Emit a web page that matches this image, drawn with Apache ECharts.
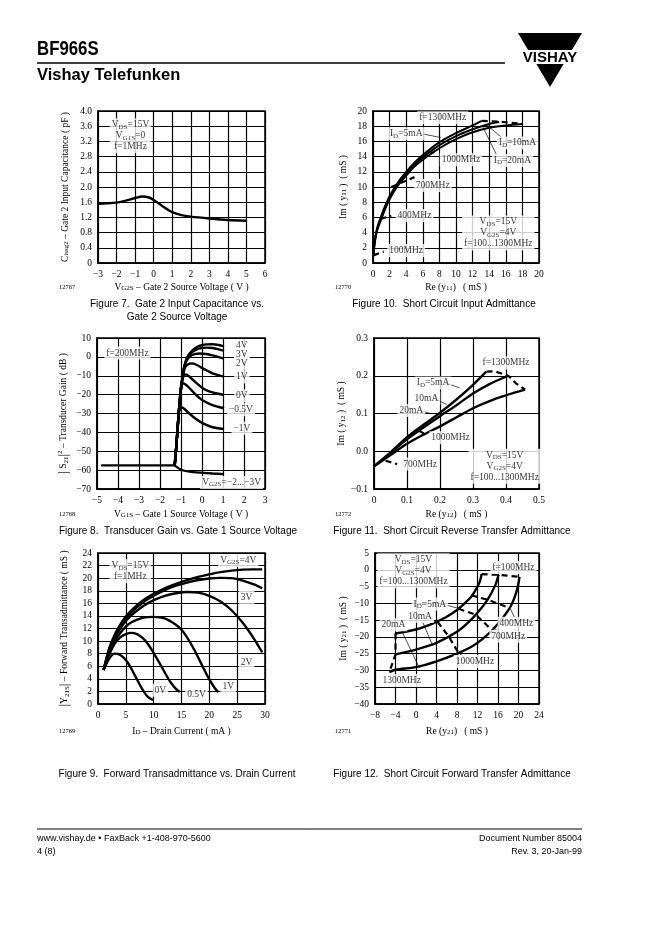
<!DOCTYPE html>
<html><head><meta charset="utf-8">
<script src="https://cdn.jsdelivr.net/npm/echarts@6.0.0/dist/echarts.min.js"></script>
<style>html,body{margin:0;padding:0;background:#fff}#c{width:662px;height:936px}</style>
</head><body><div id="c"></div>
<script>
// ---------- Figure 7 : Gate 2 input capacitance ----------
const fig7_vg2s = [-3, -2.5, -2, -1.5, -1, -0.6, -0.3, 0, 0.5, 1, 1.5, 2, 3, 4, 5];
const fig7_cissg2 = [1.56, 1.57, 1.59, 1.64, 1.71, 1.75, 1.73, 1.66, 1.49, 1.34, 1.26, 1.22, 1.17, 1.13, 1.11];

// ---------- Figure 8 : Transducer gain ----------
const fig8_flat = [[-4.8, -57.5], [-1.3, -57.5]];
const fig8_vm2_3 = [[-1.3, -57.5], [-1.0, -59.8], [-0.6, -60.8], [0, -61.4], [0.5, -61.8], [1.05, -62.1]];
const fig8_4V = [[-1.3, -57.5], [-1.22, -47], [-1.15, -36], [-1.08, -26], [-1.0, -17], [-0.92, -10], [-0.85, -5.5], [-0.75, -1.5], [-0.65, 0.8], [-0.5, 3], [-0.3, 4.8], [-0.1, 5.9], [0.2, 6.6], [0.5, 6.7], [0.8, 6.3], [1.05, 5.6]];
const fig8_3V = [[-1.3, -57.5], [-1.22, -47], [-1.15, -36], [-1.08, -26], [-1.0, -17], [-0.92, -10], [-0.85, -5.5], [-0.75, -1.8], [-0.65, 0.6], [-0.5, 2.3], [-0.3, 3.7], [-0.1, 4.5], [0.2, 4.9], [0.5, 4.7], [0.8, 4.0], [1.05, 3.2]];
const fig8_2V = [[-1.3, -57.5], [-1.22, -47], [-1.15, -36], [-1.08, -26], [-1.0, -17], [-0.92, -10], [-0.85, -5.5], [-0.7, -1.5], [-0.5, 0.8], [-0.3, 1.6], [-0.1, 1.8], [0.2, 1.5], [0.5, 0.8], [0.8, -0.1], [1.05, -0.9]];
const fig8_1V = [[-1.3, -57.5], [-1.22, -47], [-1.15, -36], [-1.08, -26], [-1.0, -17], [-0.92, -10], [-0.82, -6], [-0.7, -4.2], [-0.55, -3.5], [-0.4, -3.6], [-0.2, -4.6], [0.1, -6.5], [0.5, -8.7], [1.05, -10.5]];
const fig8_0V = [[-1.3, -57.5], [-1.22, -47], [-1.15, -36], [-1.08, -26], [-1.0, -17], [-0.92, -11.5], [-0.82, -9.4], [-0.72, -9.4], [-0.55, -11], [-0.3, -13.5], [0, -16.3], [0.4, -18.6], [1.05, -20.2]];
const fig8_m05V = [[-1.3, -57.5], [-1.22, -47], [-1.15, -36], [-1.08, -26], [-1.02, -17], [-0.95, -14], [-0.8, -14.5], [-0.6, -16.5], [-0.3, -20], [0, -22.8], [0.5, -25.5], [1.05, -27.2]];
const fig8_m1V = [[-1.3, -57.5], [-1.22, -47], [-1.15, -36], [-1.1, -29], [-1.0, -26.5], [-0.85, -27.5], [-0.6, -30], [-0.3, -32.8], [0, -35], [0.5, -37.3], [1.05, -38.3]];

// ---------- Figure 9 : Forward transadmittance ----------
const fig9_0V = [[1, 5.4], [2, 7.2], [3, 8.0], [4, 7.8], [5, 7.0], [6, 5.6], [7, 3.9], [8, 2.3], [9, 1.1], [10, 0.6]];
const fig9_05V = [[1, 5.4], [2, 7.8], [3, 9.6], [4, 10.6], [5, 11.1], [6, 11.3], [7, 11.1], [8, 10.5], [9, 9.5], [10, 8.1], [11, 6.6], [12, 5.0], [13, 3.5], [14, 2.4], [14.7, 1.9]];
const fig9_1V = [[1, 5.4], [2, 8.2], [3, 10], [4, 11.3], [5, 12.3], [6, 13], [8, 13.7], [10, 13.85], [12, 13.6], [14, 12.6], [15, 11.8], [16, 10.6], [17, 9.1], [18, 7.4], [19, 5.6], [20, 3.9], [21, 2.5], [21.6, 1.9]];
const fig9_2V = [[1, 5.4], [2, 8.5], [3, 10.5], [4, 12], [5, 13.2], [6, 14.1], [8, 15.5], [10, 16.5], [12, 17.2], [14, 17.6], [16, 17.8], [18, 17.7], [20, 17.2], [22, 16.3], [24, 14.9], [26, 12.9], [28, 10.4], [29.5, 8.2]];
const fig9_3V = [[1, 5.4], [2, 8.7], [3, 10.8], [4, 12.4], [5, 13.6], [6, 14.6], [8, 16.1], [10, 17.2], [12, 18.1], [14, 18.8], [16, 19.3], [18, 19.7], [20, 19.95], [22, 20.05], [24, 20], [26, 19.6], [28, 19], [29.5, 18.4]];
const fig9_4V = [[1, 5.4], [2, 8.8], [3, 11], [4, 12.6], [5, 13.9], [6, 14.9], [8, 16.4], [10, 17.5], [12, 18.4], [14, 19.1], [16, 19.7], [18, 20.2], [20, 20.6], [22, 20.95], [24, 21.2], [26, 21.35], [28, 21.4], [29.5, 21.4]];

// ---------- Figure 10 : y11 ----------
const fig10_5mA = [[0.05, 1.0], [0.2, 2.8], [0.5, 4.6], [1, 6.2], [1.5, 7.6], [2, 8.8], [3, 10.6], [4, 12.0], [5, 13.2], [6, 14.2], [8, 15.9], [10, 17.1], [12, 18.1], [13.1, 18.7]];
const fig10_10mA = [[0.05, 1.0], [0.2, 2.7], [0.5, 4.4], [1, 6.0], [1.5, 7.4], [2, 8.6], [3, 10.4], [4, 11.8], [5, 13.0], [6, 13.9], [8, 15.5], [10, 16.7], [12, 17.6], [14, 18.3], [15.2, 18.55]];
const fig10_20mA = [[0.05, 1.0], [0.2, 2.6], [0.5, 4.3], [1, 5.8], [1.5, 7.2], [2, 8.4], [3, 10.2], [4, 11.5], [5, 12.7], [6, 13.6], [8, 15.1], [10, 16.3], [12, 17.2], [14, 17.8], [16, 18.1], [18, 18.3]];
const fig10_f100 = [[0.05, 1.0], [1.3, 1.5]];
const fig10_f400 = [[0.9, 5.8], [2.2, 6.2]];
const fig10_f700 = [[2.2, 10.0], [5.0, 11.3]];
const fig10_f1000 = [[5.8, 14.0], [7.4, 14.6]];
const fig10_f1300 = [[13.1, 18.7], [15.2, 18.6], [18, 18.3]];

// ---------- Figure 11 : y12 ----------
const fig11_5mA = [[0, -0.04], [0.05, -0.003], [0.1, 0.037], [0.15, 0.07], [0.2, 0.102], [0.25, 0.137], [0.3, 0.176], [0.34, 0.211]];
const fig11_10mA = [[0, -0.04], [0.05, -0.005], [0.1, 0.032], [0.15, 0.063], [0.2, 0.093], [0.25, 0.122], [0.3, 0.153], [0.35, 0.178], [0.407, 0.2]];
const fig11_20mA = [[0, -0.04], [0.05, -0.01], [0.1, 0.02], [0.15, 0.044], [0.2, 0.066], [0.25, 0.09], [0.3, 0.114], [0.35, 0.133], [0.4, 0.148], [0.458, 0.163]];
const fig11_f700 = [[0.035, -0.025], [0.07, -0.034]];
const fig11_f1000 = [[0.135, 0.055], [0.158, 0.044]];
const fig11_f1300 = [[0.341, 0.211], [0.365, 0.212], [0.407, 0.2], [0.43, 0.18], [0.458, 0.163]];

// ---------- Figure 12 : y21 ----------
const fig12_5mA = [[-4, -19], [0, -17.8], [2, -16.8], [4, -15.5], [6, -14], [8, -12], [10, -9.3], [11, -7.6], [12, -5], [12.5, -3.3], [12.8, -1.3]];
const fig12_10mA = [[-4, -25.2], [0, -23.8], [4, -21.8], [8, -18.5], [10, -16], [12, -12.8], [14, -8.8], [15.5, -4.5], [16.1, -1.5]];
const fig12_20mA = [[-5.2, -30.5], [-4, -29.8], [0, -29], [4, -27.3], [8, -25], [11, -22.8], [13, -20.6], [15, -17.8], [17, -14.2], [18.5, -10.8], [19.5, -7], [20, -4], [20.2, -2.1]];
const fig12_f100 = [[12.8, -1.3], [16.1, -1.5], [20.2, -2.1]];
const fig12_f400 = [[10.8, -7.6], [14.1, -9.0], [18.3, -11.4]];
const fig12_f700 = [[8.3, -11.6], [11.7, -13.4], [14.8, -18.0]];
const fig12_f1000 = [[4.2, -15.5], [6.4, -19.9], [8.3, -24.8]];
const fig12_f1300 = [[-4, -19], [-4, -25.2], [-5.2, -30.5]];

// ---------- annotation texts (x, y, text) ----------
const ann7 = [[-1.25, 3.35, 'V{s|DS}=15V\nV{s|G1S}=0\nf=1MHz']];
const ann10 = [[8.4, 19.1, 'f=1300MHz'], [4.0, 17.0, 'I{s|D}=5mA'], [17.4, 15.8, 'I{s|D}=10mA'], [16.8, 13.5, 'I{s|D}=20mA'],
  [10.6, 13.6, '1000MHz'], [7.2, 10.2, '700MHz'], [5.0, 6.25, '400MHz'], [4.0, 1.65, '100MHz'],
  [15.1, 3.95, 'V{s|DS}=15V\nV{s|G2S}=4V\nf=100...1300MHz']];
const ann8 = [[-3.55, 2, 'f=200MHz'], [1.9, 6.0, '4V'], [1.9, 1.5, '3V'], [1.9, -3.6, '2V'], [1.9, -10.6, '1V'],
  [1.9, -20.6, '0V'], [1.85, -28, '\u22120.5V'], [1.9, -37.8, '\u22121V'], [1.41, -66.6, 'V{s|G2S}=\u22122...\u22123V']];
const ann11 = [[0.40, 0.234, 'f=1300MHz'], [0.179, 0.181, 'I{s|D}=5mA'], [0.159, 0.141, '10mA'], [0.113, 0.108, '20mA'],
  [0.232, 0.036, '1000MHz'], [0.14, -0.034, '700MHz'], [0.396, -0.04, 'V{s|DS}=15V\nV{s|G2S}=4V\nf=100...1300MHz']];
const ann9 = [[5.8, 21.1, 'V{s|DS}=15V\nf=1MHz'], [25.2, 22.8, 'V{s|G2S}=4V'], [26.7, 16.95, '3V'], [26.7, 6.6, '2V'],
  [23.4, 2.8, '1V'], [17.7, 1.5, '0.5V'], [11.2, 2.2, '0V']];
const ann12 = [[-0.5, -0.3, 'V{s|DS}=15V\nV{s|G2S}=4V\nf=100...1300MHz'], [19, 0.7, 'f=100MHz'], [2.7, -10.2, 'I{s|D}=5mA'],
  [0.8, -13.9, '10mA'], [-4.4, -16.4, '20mA'], [19.6, -15.9, '400MHz'], [18, -19.8, '700MHz'], [11.5, -27.3, '1000MHz'], [-2.8, -33, '1300MHz']];
const lead10 = [[[5.9, 17.0], [8.2, 16.5]], [[15.6, 16.4], [13.8, 18.1]], [[14.9, 14.2], [13.2, 18.0]]];
const lead11 = [[[0.215, 0.181], [0.26, 0.168]], [[0.187, 0.138], [0.22, 0.124]], [[0.142, 0.107], [0.17, 0.1]]];
const lead12 = [[[5.6, -10.4], [8.3, -11.5]], [[1.2, -15.2], [3.2, -22.4]], [[-3.0, -17.5], [0.6, -29.1]],
  [[18.4, -11.6], [19.3, -14.4]], [[14.9, -17], [16.3, -18.7]], [[8.4, -24.9], [9.6, -26.2]]];

const SERIF = '"Liberation Serif", "DejaVu Serif", serif';
const SANS = '"Liberation Sans", Arial, sans-serif';
const RICH = {
  s: {fontFamily: SERIF, fontSize: 7, verticalAlign: 'bottom', lineHeight: 9, padding: [3, 0, 0, 0], color: '#000'},
  sup: {fontFamily: SERIF, fontSize: 7, verticalAlign: 'top', color: '#000'},
  big: {fontFamily: SERIF, fontSize: 13, color: '#000'}
};
const minus = v => String(v).replace('-', '\u2212');

const grids = [
  {left: 98, top: 111, width: 167, height: 152},
  {left: 373, top: 111, width: 166, height: 152},
  {left: 97, top: 338, width: 168, height: 151},
  {left: 374, top: 338, width: 165, height: 151},
  {left: 98, top: 553, width: 167, height: 151},
  {left: 375, top: 553, width: 164, height: 151}
].map(g => Object.assign(g, {show: true, borderColor: '#000', borderWidth: 1.5, backgroundColor: 'transparent'}));

function axis(i, min, max, interval, name, gap, fmt) {
  return {
    gridIndex: i, type: 'value', min, max, interval, name, nameLocation: 'middle', nameGap: gap,
    nameTextStyle: {fontFamily: SERIF, fontSize: 9.5, color: '#000', rich: RICH},
    axisLine: {show: true, onZero: false, lineStyle: {color: '#000', width: 1.5}},
    axisTick: {show: false},
    axisLabel: {fontFamily: SERIF, fontSize: 9.5, color: '#000', margin: 6, formatter: fmt},
    splitLine: {show: true, lineStyle: {color: '#000', width: 1.2}}
  };
}
const fmt1 = v => (v === 0 ? '0' : minus(v.toFixed(1)));
const fmtI = v => minus(Math.round(v));

const xAxes = [
  axis(0, -3, 6, 1, 'V{s|G2S} \u2013 Gate 2 Source Voltage ( V )', 19, fmtI),
  axis(1, 0, 20, 2, 'Re (y{s|11})   ( mS )', 19, fmtI),
  axis(2, -5, 3, 1, 'V{s|G1S} \u2013 Gate 1 Source Voltage ( V )', 20, fmtI),
  axis(3, 0, 0.5, 0.1, 'Re (y{s|12})   ( mS )', 20, fmt1),
  axis(4, 0, 30, 5, 'I{s|D} \u2013 Drain Current ( mA )', 22, fmtI),
  axis(5, -8, 24, 4, 'Re (y{s|21})   ( mS )', 22, fmtI)
];
const yAxes = [
  axis(0, 0, 4, 0.4, 'C{s|issg2} \u2013 Gate 2 Input Capacitance ( pF )', 28, fmt1),
  axis(1, 0, 20, 2, 'Im ( y{s|11} )  ( mS )', 25, fmtI),
  axis(2, -70, 10, 10, '{big||} S{s|21}{big||}{sup|2} \u2013 Transducer Gain ( dB )', 27, fmtI),
  axis(3, -0.1, 0.3, 0.1, 'Im ( y{s|12} )  ( mS )', 26, v => minus(v.toFixed(1))),
  axis(4, 0, 24, 2, '{big||}Y{s|21S}{big||} \u2013 Forward Transadmittance ( mS )', 27, fmtI),
  axis(5, -40, 5, 5, 'Im ( y{s|21} )  ( mS )', 27, fmtI)
];

const series = [];
function curve(i, data, extra) {
  series.push(Object.assign({type: 'line', xAxisIndex: i, yAxisIndex: i, data, symbol: 'none', smooth: 0.3,
    lineStyle: {color: '#000', width: 2.4}, silent: true, z: 3}, extra || {}));
}
function dashed(i, data) { curve(i, data, {smooth: false, lineStyle: {color: '#000', width: 2.2, type: [6, 4]}}); }
function leader(i, data) { curve(i, data, {smooth: false, lineStyle: {color: '#000', width: 0.7}}); }
function ann(i, items) {
  series.push({type: 'scatter', xAxisIndex: i, yAxisIndex: i, symbolSize: 0, z: 6, silent: true,
    itemStyle: {color: 'transparent'},
    data: items.map(a => ({value: [a[0], a[1]], label: {formatter: a[2]}})),
    label: {show: true, position: 'inside', align: 'center', verticalAlign: 'middle', color: '#000',
      fontFamily: SERIF, fontSize: 9.5, lineHeight: 11, backgroundColor: '#fff', padding: [1, 2], rich: RICH}});
}

// fig 7
curve(0, fig7_vg2s.map((x, k) => [x, fig7_cissg2[k]]));
ann(0, ann7);
// fig 10
[fig10_5mA, fig10_10mA, fig10_20mA].forEach(d => curve(1, d, {lineStyle: {color: '#000', width: 2}}));
[fig10_f100, fig10_f400, fig10_f700, fig10_f1000, fig10_f1300].forEach(d => dashed(1, d));
lead10.forEach(d => leader(1, d));
ann(1, ann10);
// fig 8
curve(2, fig8_flat, {smooth: false});
curve(2, fig8_vm2_3, {smooth: 0.2});
[fig8_4V, fig8_3V, fig8_2V, fig8_1V, fig8_0V, fig8_m05V, fig8_m1V].forEach(d => curve(2, d, {smooth: 0.2}));
ann(2, ann8);
// fig 11
[fig11_5mA, fig11_10mA, fig11_20mA].forEach(d => curve(3, d));
[fig11_f700, fig11_f1000, fig11_f1300].forEach(d => dashed(3, d));
lead11.forEach(d => leader(3, d));
ann(3, ann11);
// fig 9
[fig9_0V, fig9_05V, fig9_1V, fig9_2V, fig9_3V, fig9_4V].forEach(d => curve(4, d));
ann(4, ann9);
// fig 12
[fig12_5mA, fig12_10mA, fig12_20mA].forEach(d => curve(5, d));
[fig12_f100, fig12_f400, fig12_f700, fig12_f1000, fig12_f1300].forEach(d => dashed(5, d));
lead12.forEach(d => leader(5, d));
ann(5, ann12);

function txt(x, y, text, size, opts, props) {
  return Object.assign({type: 'text', x, y, silent: true,
    style: Object.assign({text, fontSize: size, fontFamily: SANS, fill: '#000', align: 'left', verticalAlign: 'middle'}, opts || {})}, props || {});
}
const captions = [
  [177, 304, 'Figure 7.  Gate 2 Input Capacitance vs.'], [177, 317, 'Gate 2 Source Voltage'],
  [444, 304, 'Figure 10.  Short Circuit Input Admittance'],
  [178, 531, 'Figure 8.  Transducer Gain vs. Gate 1 Source Voltage'],
  [452, 531, 'Figure 11.  Short Circuit Reverse Transfer Admittance'],
  [177, 774, 'Figure 9.  Forward Transadmittance vs. Drain Current'],
  [452, 774, 'Figure 12.  Short Circuit Forward Transfer Admittance']
];
const figNums = [[67, 287, '12767'], [343, 287, '12770'], [67, 514, '12768'], [343, 514, '12772'], [67, 731, '12769'], [343, 731, '12771']];

const graphic = [
  txt(37, 49, 'BF966S', 20, {fontWeight: 'bold'}, {scaleX: 0.84}),
  {type: 'line', silent: true, shape: {x1: 37, y1: 63, x2: 505, y2: 63}, style: {stroke: '#000', lineWidth: 1.5}},
  txt(37, 75, 'Vishay Telefunken', 17, {fontWeight: 'bold'}, {scaleX: 0.97}),
  {type: 'polygon', silent: true, shape: {points: [[518, 33], [582, 33], [550, 87]]}, style: {fill: '#000'}},
  {type: 'rect', silent: true, shape: {x: 512, y: 50, width: 76, height: 14}, style: {fill: '#fff'}},
  txt(550, 57.5, 'VISHAY', 15, {fontWeight: 'bold', align: 'center'}),
  {type: 'line', silent: true, shape: {x1: 37, y1: 829, x2: 582, y2: 829}, style: {stroke: '#000', lineWidth: 1}},
  txt(37, 838.5, 'www.vishay.de \u2022 FaxBack +1-408-970-5600', 9),
  txt(37, 851.5, '4 (8)', 9),
  txt(582, 838.5, 'Document Number 85004', 9, {align: 'right'}),
  txt(582, 851.5, 'Rev. 3, 20-Jan-99', 9, {align: 'right'})
].concat(captions.map(c => txt(c[0], c[1], c[2], 10, {align: 'center'})))
 .concat(figNums.map(c => txt(c[0], c[1], c[2], 6.5, {align: 'center', fontFamily: SERIF})));

const chart = echarts.init(document.getElementById('c'), null, {renderer: 'canvas'});
chart.setOption({animation: false, backgroundColor: '#fff', grid: grids, xAxis: xAxes, yAxis: yAxes, series, graphic});
</script></body></html>
